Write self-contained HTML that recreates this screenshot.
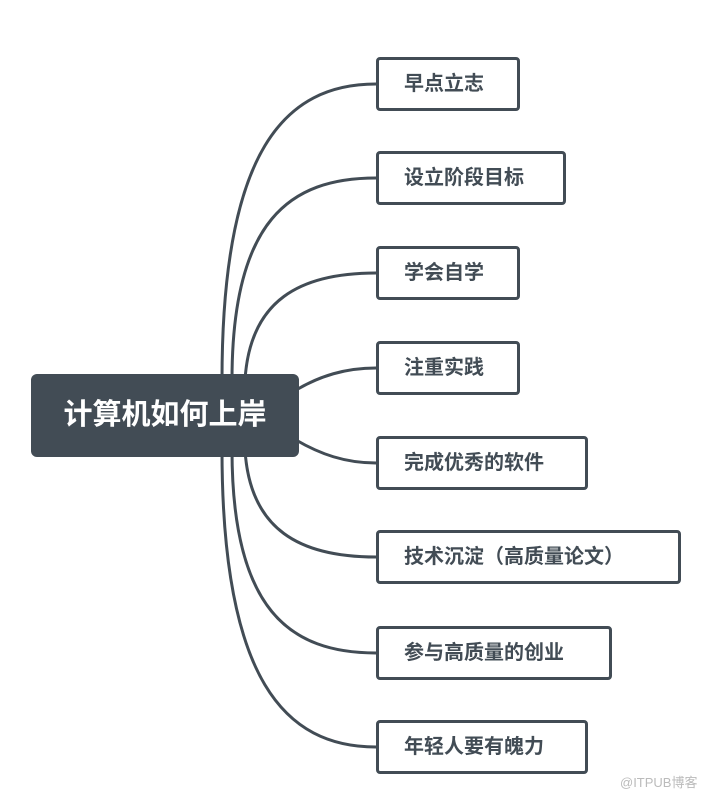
<!DOCTYPE html>
<html><head><meta charset="utf-8"><style>
body{margin:0;background:#fff;width:710px;height:795px;overflow:hidden;position:relative;font-family:"Liberation Sans","Noto Sans CJK SC",sans-serif;}
.b{position:absolute;left:376px;height:54px;border:3px solid #424c55;border-radius:4px;box-sizing:border-box;background:#fff;color:#424c55;font-weight:bold;font-size:20px;line-height:48px;padding-left:25px;}
.root{position:absolute;left:31px;top:374px;width:268px;height:83px;background:#424c55;border-radius:6px;color:#fff;font-weight:bold;font-size:29px;line-height:83px;text-align:center;}
.wm{position:absolute;left:620px;top:772px;font-size:13px;color:#bbb;}
</style></head><body>
<svg width="710" height="795" style="position:absolute;left:0;top:0">
<g fill="none" stroke="#424c55" stroke-width="3">
<path d="M222 380 C222 150 285 84 376 84"/>
<path d="M232 380 C232 220 290 178 376 178"/>
<path d="M245 380 C250 300 300 273 376 273"/>
<path d="M296 390 C320 376 345 368 376 368"/>
<path d="M296 440 C320 454 345 463 376 463"/>
<path d="M245 450 C250 530 300 557 376 557"/>
<path d="M232 450 C232 610 290 653 376 653"/>
<path d="M222 450 C222 680 285 747 376 747"/>
</g></svg>
<div class="root">计算机如何上岸</div>
<div class="b" style="top:57px;width:144px">早点立志</div>
<div class="b" style="top:151px;width:190px">设立阶段目标</div>
<div class="b" style="top:246px;width:144px">学会自学</div>
<div class="b" style="top:341px;width:144px">注重实践</div>
<div class="b" style="top:436px;width:212px">完成优秀的软件</div>
<div class="b" style="top:530px;width:305px">技术沉淀（高质量论文）</div>
<div class="b" style="top:626px;width:236px">参与高质量的创业</div>
<div class="b" style="top:720px;width:212px">年轻人要有魄力</div>
<div class="wm">@ITPUB博客</div>
</body></html>
